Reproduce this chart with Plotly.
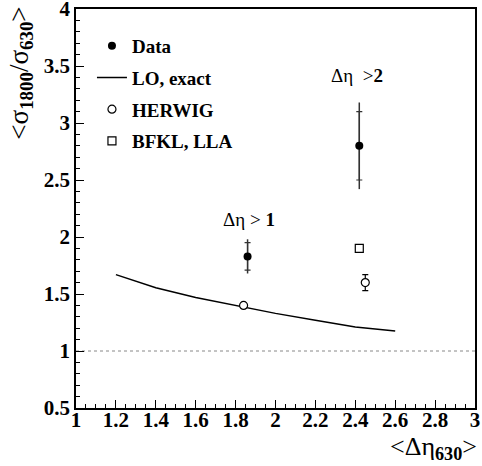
import plotly.graph_objects as go

# Data
data_x = [1.86, 2.42]
data_y = [1.83, 2.80]
data_stat = [0.12, 0.30]
data_tot = [0.15, 0.38]

lo_x = [1.2, 1.4, 1.6, 1.8, 2.0, 2.2, 2.4, 2.6]
lo_y = [1.67, 1.555, 1.47, 1.40, 1.33, 1.27, 1.21, 1.175]

herwig_x = [1.84, 2.45]
herwig_y = [1.40, 1.60]
herwig_err = [0.0, 0.07]

bfkl_x = [2.42]
bfkl_y = [1.90]

ref_x = [1.0, 3.0]
ref_y = [1.0, 1.0]

serif = "Times New Roman, Liberation Serif, Times, serif"

fig = go.Figure()

fig.add_trace(go.Scatter(x=ref_x, y=ref_y, mode="lines", showlegend=False,
                         line=dict(color="#888888", width=1, dash="dot")))

# total error (no caps)
fig.add_trace(go.Scatter(x=data_x, y=data_y, mode="markers", showlegend=False,
                         marker=dict(size=1, color="black"),
                         error_y=dict(type="data", array=data_tot, width=0,
                                      color="#333333", thickness=1.5)))
# data with stat error ticks
fig.add_trace(go.Scatter(x=data_x, y=data_y, mode="markers", name="Data",
                         legendgroup="a",
                         marker=dict(size=8, color="black", symbol="circle"),
                         error_y=dict(type="data", array=data_stat, width=3,
                                      color="#333333", thickness=1.2)))

fig.add_trace(go.Scatter(x=lo_x, y=lo_y, mode="lines", name="LO, exact",
                         legendgroup="b", line=dict(color="black", width=1.5)))

fig.add_trace(go.Scatter(x=herwig_x, y=herwig_y, mode="markers", name="HERWIG",
                         legendgroup="c",
                         marker=dict(size=8, color="white", symbol="circle",
                                     line=dict(color="black", width=1.2)),
                         error_y=dict(type="data", array=herwig_err, width=3,
                                      color="black", thickness=1.2)))

fig.add_trace(go.Scatter(x=bfkl_x, y=bfkl_y, mode="markers", name="BFKL, LLA",
                         legendgroup="d",
                         marker=dict(size=8, color="white", symbol="square",
                                     line=dict(color="black", width=1.2))))

axis_common = dict(
    showgrid=False, zeroline=False, showline=True, linecolor="black",
    linewidth=1.5, mirror=True, ticks="inside", tickcolor="black",
    ticklen=8, tickwidth=1, ticklabeloverflow="allow", automargin=False,
    tickfont=dict(family=serif, size=21, color="black", weight="bold"),
)

fig.update_xaxes(range=[1, 3], tickvals=[1, 1.2, 1.4, 1.6, 1.8, 2, 2.2, 2.4, 2.6, 2.8, 3],
                 ticktext=["1", "1.2", "1.4", "1.6", "1.8", "2", "2.2", "2.4", "2.6", "2.8", "3"],
                 minor=dict(dtick=0.05, ticks="inside", ticklen=4, tickcolor="black"),
                 ticklabelstandoff=-8,
                 **axis_common)
fig.update_yaxes(range=[0.5, 4], tickvals=[0.5, 1, 1.5, 2, 2.5, 3, 3.5, 4],
                 ticktext=["0.5", "1", "1.5", "2", "2.5", "3", "3.5", "4"],
                 minor=dict(dtick=0.1, ticks="inside", ticklen=4, tickcolor="black"),
                 ticklabelstandoff=0,
                 **axis_common)

fig.add_annotation(text="&lt;σ<sub><b>1800</b></sub>/σ<sub><b>630</b></sub>&gt;", textangle=-90,
                   xref="paper", yref="paper", x=-0.14, y=1.01,
                   xanchor="center", yanchor="top", showarrow=False,
                   font=dict(family=serif, size=27, color="black"))
fig.add_annotation(text="&lt;Δη<sub><b>630</b></sub>&gt;",
                   xref="paper", yref="paper", x=1.01, y=-0.055,
                   xanchor="right", yanchor="top", showarrow=False,
                   font=dict(family=serif, size=26, color="black"))

fig.add_annotation(text="Δη &gt; <b>1</b>", x=1.865, y=2.15, showarrow=False,
                   font=dict(family=serif, size=19, color="black"))
fig.add_annotation(text="Δη  &gt;<b>2</b>", x=2.41, y=3.42, showarrow=False,
                   font=dict(family=serif, size=19, color="black"))

fig.update_layout(
    width=482, height=466,
    margin=dict(l=76, r=7, t=9, b=58),
    paper_bgcolor="white", plot_bgcolor="white",
    legend=dict(x=0.04, y=0.955, xanchor="left", yanchor="top",
                font=dict(family=serif, size=19, color="black", weight="bold"),
                bgcolor="rgba(0,0,0,0)", tracegroupgap=4, itemwidth=30),
)

fig.write_html("out.html")
